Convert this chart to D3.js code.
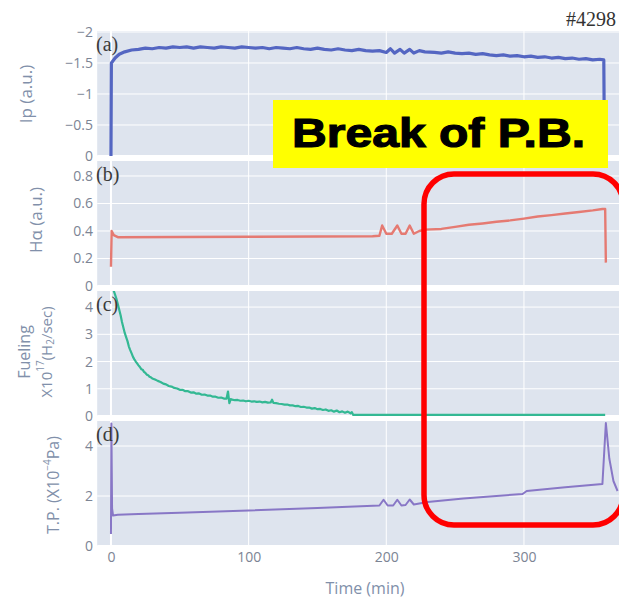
<!DOCTYPE html>
<html>
<head>
<meta charset="utf-8">
<script src="https://cdn.jsdelivr.net/npm/d3@7"></script>
<style>
  html, body { margin: 0; padding: 0; background: #ffffff; }
  svg { display: block; }
</style>
</head>
<body>
<svg id="chart" width="619" height="603"></svg>
<script>
// ---- data -------------------------------------------------------------
const xTicks = [0, 100, 200, 300];

// (a) plasma current
const ipTime  = [0, 0.3, 3, 6, 10, 15, 20, 25, 30, 35, 40, 45, 50, 55, 60, 65, 70, 75, 80, 85, 90, 95,
                 100, 105, 110, 115, 120, 125, 130, 135, 140, 145, 150, 155, 160, 165, 170, 175, 180, 185,
                 190, 195, 200, 203, 206, 210, 213, 217, 220, 224, 228, 235, 240, 245, 250, 255, 260, 265,
                 270, 275, 280, 285, 290, 295, 300, 305, 310, 315, 320, 325, 330, 335, 340, 345, 350, 355,
                 358, 358.5];
const ipValue = [0, -1.5, -1.58, -1.64, -1.68, -1.71, -1.72, -1.74, -1.73, -1.75, -1.74, -1.76, -1.75, -1.76,
                 -1.74, -1.76, -1.75, -1.74, -1.76, -1.75, -1.74, -1.76, -1.75, -1.74, -1.75, -1.73, -1.75,
                 -1.74, -1.73, -1.75, -1.73, -1.72, -1.74, -1.72, -1.71, -1.73, -1.71, -1.70, -1.72, -1.70,
                 -1.69, -1.70, -1.67, -1.73, -1.66, -1.72, -1.66, -1.72, -1.66, -1.70, -1.68, -1.67, -1.66,
                 -1.68, -1.66, -1.65, -1.66, -1.64, -1.65, -1.63, -1.62, -1.63, -1.61, -1.62, -1.60, -1.61,
                 -1.59, -1.60, -1.58, -1.59, -1.57, -1.58, -1.56, -1.57, -1.55, -1.56, -1.55, 0];
const ipTicks  = [0, -0.5, -1, -1.5, -2];
const ipLabels = ["0", "\u22120.5", "\u22121", "\u22121.5", "\u22122"];

// (b) H-alpha
const haTime  = [0, 0.5, 2, 5, 50, 100, 150, 190, 195, 197, 200, 204, 208, 211, 214, 217, 220, 224, 228,
                 240, 250, 260, 270, 280, 290, 300, 310, 320, 330, 340, 350, 357, 359, 359.5];
const haValue = [0.14, 0.40, 0.37, 0.355, 0.356, 0.358, 0.36, 0.362, 0.365, 0.44, 0.38, 0.38, 0.44, 0.38,
                 0.38, 0.44, 0.38, 0.40, 0.41, 0.415, 0.43, 0.445, 0.455, 0.467, 0.477, 0.49, 0.505, 0.515,
                 0.527, 0.538, 0.55, 0.56, 0.56, 0.17];
const haTicks  = [0, 0.2, 0.4, 0.6, 0.8];
const haLabels = ["0", "0.2", "0.4", "0.6", "0.8"];

// (c) fueling rate
const fuelTime  = [0, 2, 4, 5, 6, 7, 8, 9, 10, 11, 12, 13, 14, 15, 16, 17, 18, 19, 20, 21, 22, 23, 24, 25,
                   26, 27, 28, 29, 30, 32, 34, 36, 38, 40, 42, 44, 46, 48, 50, 52, 54, 56, 58, 60, 62, 64,
                   66, 68, 70, 72, 74, 76, 78, 80, 82, 84, 85, 86, 87, 88, 90, 92, 94, 96, 98, 100, 102,
                   104, 106, 108, 110, 112, 114, 116, 117, 118, 120, 122, 124, 126, 128, 130, 132, 134,
                   136, 138, 140, 142, 144, 146, 148, 150, 152, 154, 156, 158, 160, 162, 164, 166, 168,
                   170, 172, 174, 175, 176, 178, 359];
const fuelValue = [4.8, 4.6, 4.3, 4.1, 3.9, 3.7, 3.45, 3.25, 3.05, 2.9, 2.75, 2.55, 2.42, 2.3, 2.17, 2.08,
                   2.0, 1.93, 1.86, 1.8, 1.72, 1.7, 1.62, 1.58, 1.52, 1.5, 1.44, 1.42, 1.38, 1.34, 1.29,
                   1.25, 1.19, 1.16, 1.1, 1.08, 1.03, 1.01, 0.96, 0.96, 0.91, 0.91, 0.86, 0.87, 0.82, 0.83,
                   0.78, 0.79, 0.75, 0.75, 0.71, 0.71, 0.67, 0.68, 0.64, 0.64, 0.9, 0.47, 0.62, 0.6, 0.58,
                   0.59, 0.56, 0.57, 0.54, 0.56, 0.53, 0.54, 0.52, 0.53, 0.5, 0.52, 0.49, 0.5, 0.6, 0.48,
                   0.47, 0.45, 0.44, 0.42, 0.42, 0.39, 0.39, 0.36, 0.37, 0.33, 0.34, 0.31, 0.31, 0.27, 0.29,
                   0.25, 0.26, 0.22, 0.24, 0.19, 0.21, 0.16, 0.2, 0.14, 0.17, 0.12, 0.16, 0.1, 0.14, 0.04,
                   0.04, 0.04];
const fuelTicks  = [0, 1, 2, 3, 4];
const fuelLabels = ["0", "1", "2", "3", "4"];

// (d) total pressure
const tpTime  = [0, 0.3, 0.8, 1.5, 5, 20, 50, 100, 150, 195, 198, 201, 205, 208, 211, 214, 217, 220, 224,
                 230, 256, 280, 299, 302, 330, 357, 359.5, 362, 365, 368];
const tpValue = [0.48, 4.9, 1.5, 1.22, 1.25, 1.28, 1.33, 1.42, 1.52, 1.62, 1.85, 1.62, 1.62, 1.85, 1.62,
                 1.64, 1.86, 1.66, 1.7, 1.76, 1.9, 2.0, 2.08, 2.2, 2.35, 2.48, 4.92, 3.5, 2.6, 2.2];
const tpTicks  = [0, 2, 4];
const tpLabels = ["0", "2", "4"];

// ---- layout -----------------------------------------------------------
const svg = d3.select("#chart");

const x = d3.scaleLinear().domain([-10, 375]).range([97.2, 627.2]);

const panels = [
  { key: "a", top: 31,  bottom: 156, domain: [0, -2.016], time: ipTime,   value: ipValue,
    ticks: ipTicks, labels: ipLabels, color: "#5466c2", width: 3.2, tag: "(a)" },
  { key: "b", top: 161, bottom: 286, domain: [0, 0.909], time: haTime,   value: haValue,
    ticks: haTicks, labels: haLabels, color: "#e57a72", width: 2.4, tag: "(b)" },
  { key: "c", top: 291, bottom: 416, domain: [0, 4.59],  time: fuelTime, value: fuelValue,
    ticks: fuelTicks, labels: fuelLabels, color: "#33b893", width: 2.2, tag: "(c)" },
  { key: "d", top: 421, bottom: 546, domain: [0, 5.0],   time: tpTime,   value: tpValue,
    ticks: tpTicks, labels: tpLabels, color: "#8877c6", width: 2.0, tag: "(d)" }
];

const bg = "#dee4ee";
const tickColor = "#7c8494";
const titleColor = "#8190aa";

panels.forEach(p => {
  const y = d3.scaleLinear().domain(p.domain).range([p.bottom, p.top]);
  const g = svg.append("g").attr("class", "panel-" + p.key);

  g.append("rect")
    .attr("x", x.range()[0]).attr("y", p.top)
    .attr("width", x.range()[1] - x.range()[0]).attr("height", p.bottom - p.top)
    .attr("fill", bg);

  // horizontal grid
  g.selectAll(".hgrid").data(p.ticks.filter(v => v !== 0)).join("line")
    .attr("x1", x.range()[0]).attr("x2", x.range()[1])
    .attr("y1", d => y(d)).attr("y2", d => y(d))
    .attr("stroke", "#ffffff").attr("stroke-width", 1);

  // vertical grid
  g.selectAll(".vgrid").data(xTicks.filter(v => v !== 0)).join("line")
    .attr("x1", d => x(d)).attr("x2", d => x(d))
    .attr("y1", p.top).attr("y2", p.bottom)
    .attr("stroke", "#ffffff").attr("stroke-width", 1);

  // zero lines
  g.append("line")
    .attr("x1", x(0)).attr("x2", x(0)).attr("y1", p.top).attr("y2", p.bottom)
    .attr("stroke", "#ffffff").attr("stroke-width", 2);
  g.append("line")
    .attr("x1", x.range()[0]).attr("x2", x.range()[1]).attr("y1", y(0)).attr("y2", y(0))
    .attr("stroke", "#ffffff").attr("stroke-width", 2);

  // y tick labels
  const yAxis = d3.axisLeft(y).tickValues(p.ticks)
    .tickFormat((d, i) => p.labels[i]).tickSize(0).tickPadding(0);
  const ax = g.append("g").attr("transform", "translate(93,0)").call(yAxis);
  ax.select(".domain").remove();
  ax.selectAll("text")
    .attr("fill", tickColor)
    .attr("font-family", "'Open Sans', sans-serif")
    .attr("font-size", 14);

  // trace
  const clipId = "clip-" + p.key;
  svg.append("clipPath").attr("id", clipId).append("rect")
    .attr("x", x.range()[0]).attr("y", p.top)
    .attr("width", x.range()[1] - x.range()[0]).attr("height", p.bottom - p.top);

  const line = d3.line()
    .x((d, i) => x(p.time[i]))
    .y(d => y(d));
  g.append("path")
    .attr("clip-path", `url(#${clipId})`)
    .attr("d", line(p.value))
    .attr("fill", "none")
    .attr("stroke", p.color)
    .attr("stroke-width", p.width)
    .attr("stroke-linejoin", "round");

  // panel tag
  g.append("text")
    .attr("x", 96).attr("y", p.top + 20)
    .attr("font-family", "'Liberation Serif', 'Times New Roman', serif")
    .attr("font-size", 20)
    .attr("fill", "#3a3a3a")
    .text(p.tag);
});

// x axis tick labels
const xAxis = d3.axisBottom(x).tickValues(xTicks).tickSize(0).tickPadding(0).tickFormat(d3.format("d"));
const xa = svg.append("g").attr("transform", "translate(0,552)").call(xAxis);
xa.select(".domain").remove();
xa.selectAll("text")
  .attr("fill", tickColor)
  .attr("font-family", "'Open Sans', sans-serif")
  .attr("font-size", 14);

svg.append("text")
  .attr("x", 365).attr("y", 594)
  .attr("text-anchor", "middle")
  .attr("font-family", "'Open Sans', sans-serif")
  .attr("font-size", 16)
  .attr("fill", titleColor)
  .text("Time (min)");

// y axis titles
function vTitle(cx, cy, size, build) {
  const t = svg.append("text")
    .attr("transform", `translate(${cx},${cy}) rotate(-90)`)
    .attr("text-anchor", "middle")
    .attr("dominant-baseline", "central")
    .attr("font-family", "'Open Sans', sans-serif")
    .attr("font-size", size)
    .attr("fill", titleColor);
  build(t);
}
vTitle(25, 94, 17, t => t.text("Ip (a.u.)"));
vTitle(35, 220, 17, t => t.text("H\u03b1 (a.u.)"));
vTitle(24, 352, 16, t => t.text("Fueling"));
vTitle(46, 352, 15, t => {
  t.append("tspan").text("X10");
  t.append("tspan").attr("dy", -6).attr("font-size", 10).text("17");
  t.append("tspan").attr("dy", 6).text("(H");
  t.append("tspan").attr("dy", 4).attr("font-size", 10).text("2");
  t.append("tspan").attr("dy", -4).text("/sec)");
});
vTitle(53, 485, 16, t => {
  t.append("tspan").text("T.P. (X10");
  t.append("tspan").attr("dy", -6).attr("font-size", 10).text("\u22124");
  t.append("tspan").attr("dy", 6).text("Pa)");
});

// shot number
svg.append("text")
  .attr("x", 566).attr("y", 26)
  .attr("font-family", "'Liberation Serif', 'Times New Roman', serif")
  .attr("font-size", 20)
  .attr("fill", "#333")
  .text("#4298");

// highlighted window
svg.append("rect")
  .attr("x", 424).attr("y", 174)
  .attr("width", 199).attr("height", 351)
  .attr("rx", 30).attr("ry", 30)
  .attr("fill", "none")
  .attr("stroke", "#ff0000")
  .attr("stroke-width", 5.5);

// annotation banner
svg.append("rect")
  .attr("x", 273).attr("y", 100)
  .attr("width", 335).attr("height", 68)
  .attr("fill", "#ffff00");
svg.append("text")
  .attr("x", 292).attr("y", 147)
  .attr("font-family", "'Liberation Sans', Arial, sans-serif")
  .attr("font-weight", "bold")
  .attr("font-size", 41)
  .attr("textLength", 293)
  .attr("lengthAdjust", "spacingAndGlyphs")
  .attr("fill", "#000")
  .attr("stroke", "#000")
  .attr("stroke-width", 1.2)
  .text("Break of P.B.");
</script>
</body>
</html>
